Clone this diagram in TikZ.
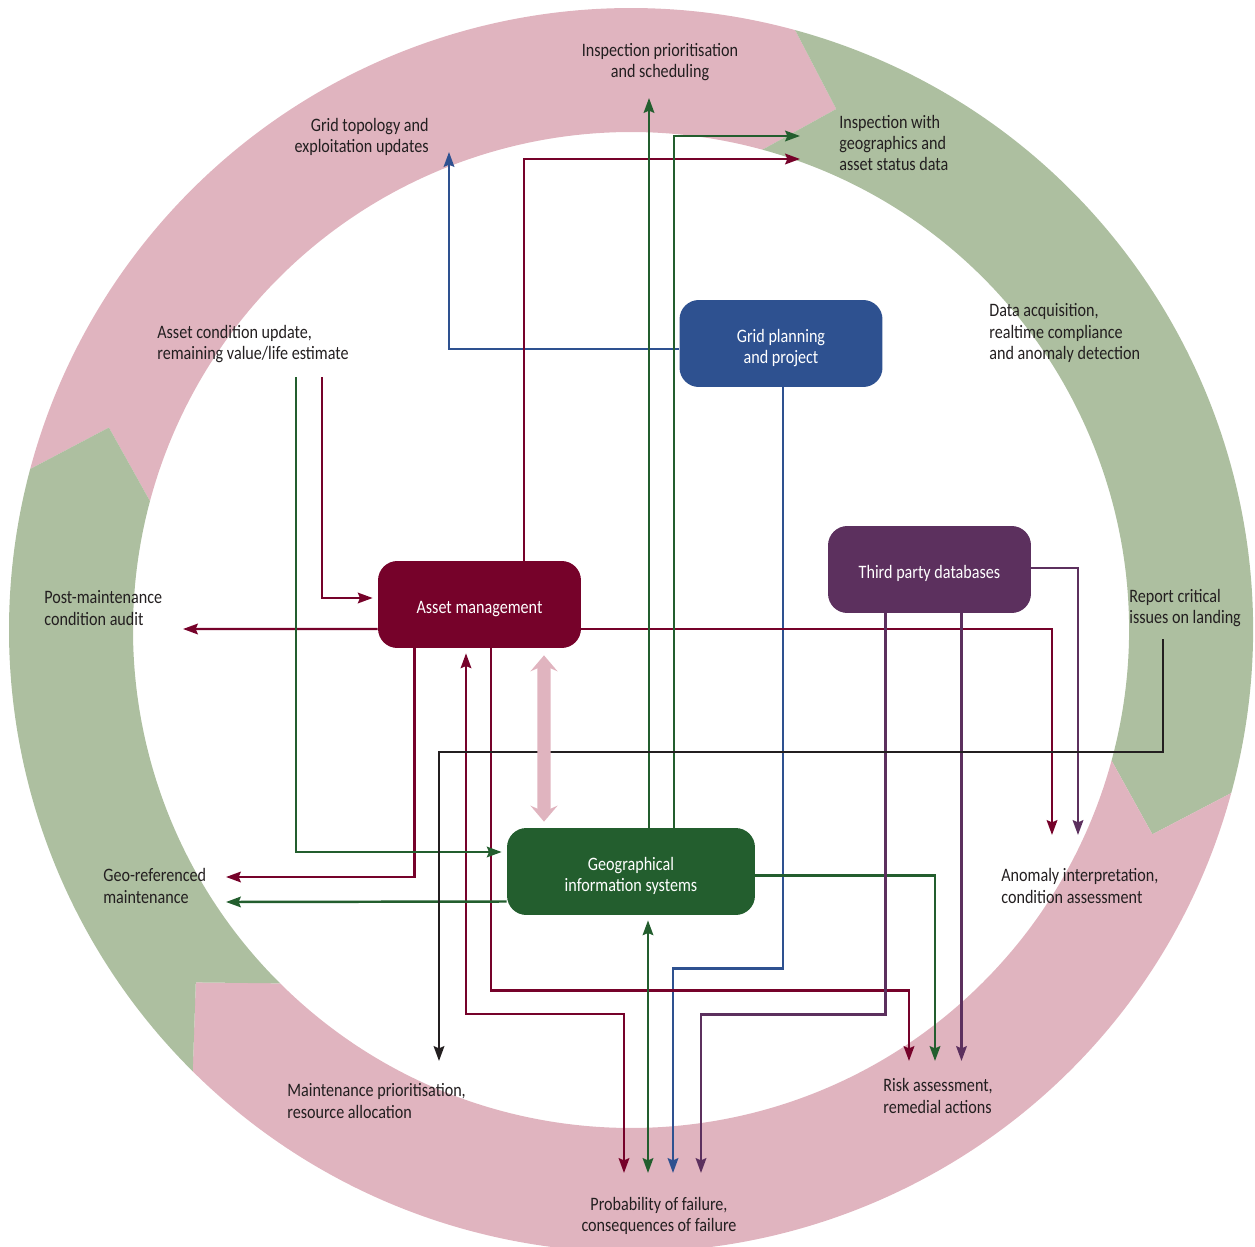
\documentclass[tikz,border=0pt]{standalone}
\usepackage{fontspec}
\setmainfont{Carlito}[FakeStretch=0.85]
\usetikzlibrary{arrows.meta}
\definecolor{ringpink}{RGB}{224,180,191}
\definecolor{ringgreen}{RGB}{173,191,160}
\definecolor{amred}{RGB}{118,2,42}
\definecolor{gpblue}{RGB}{46,81,144}
\definecolor{tppurple}{RGB}{92,48,94}
\definecolor{gisgreen}{RGB}{35,94,46}
\definecolor{txtgray}{RGB}{35,31,32}

\begin{document}
\begin{tikzpicture}[x=0.02cm,y=-0.02cm,>={Stealth[length=8.4pt,width=6pt,inset=1.2pt]},
    wire/.style={line width=1.4pt},
    lbl/.style={inner sep=0pt,text=txtgray,font=\fontsize{10.8}{12}\selectfont},
    box/.style={rounded corners=11pt,minimum width=4.06cm,minimum height=1.74cm,inner sep=0pt,
      text=white,align=center,font=\fontsize{10.8}{12}\selectfont},
    oneline/.style={execute at begin node={\rule{0pt}{12pt}}},
    twoline/.style={text height=23pt,text depth=0pt},
    dbl/.style={draw=ringpink,line width=7.6pt,
      arrows={Stealth[length=9.1pt,width=15.4pt,inset=3.4pt]-Stealth[length=9.1pt,width=15.4pt,inset=3.4pt]}}]
        \useasboundingbox (0,0) rectangle (1255,1247);
        \begin{scope}[shift={(631,630)}]
        \foreach \s/\e/\c in {195/285.3/ringpink,285.3/375.2/ringgreen,15.2/134.8/ringpink,134.8/195/ringgreen}
          \fill[\c] (\s:622) arc[start angle=\s,end angle=\e,radius=622] -- ({\e+6.2}:560)
                  -- (\e:498) arc[start angle=\e,end angle=\s,radius=498] -- ({\s+6.2}:560) -- cycle;
        \end{scope}

        \node[box,oneline,fill=amred] (am) at (479.5,604.5) {Asset management};
        \node[box,twoline,fill=gpblue] (gp) at (781,343.5) {Grid planning\\and project};
        \node[box,oneline,fill=tppurple] (tp) at (929.5,569.5) {Third party databases};
        \node[box,twoline,fill=gisgreen,minimum width=4.96cm] (gis) at (631,871.5) {Geographical\\information systems};

        \node[lbl,align=center] (sched) at (660,62) {Inspection prioritisation\\and scheduling};
        \node[lbl,align=right,anchor=east] (topo) at (429,137) {Grid topology and\\exploitation updates};
        \node[lbl,align=left,anchor=west] (inspgeo) at (839,143) {Inspection with\\geographics and\\asset status data};
        \node[lbl,align=left,anchor=west] (acq) at (989,333) {Data acquisition,\\realtime compliance\\and anomaly detection};
        \node[lbl,align=left,anchor=west] (condupd) at (157,344) {Asset condition update,\\remaining value/life estimate};
        \node[lbl,align=left,anchor=west] (audit) at (44,608) {Post-maintenance\\condition audit};
        \node[lbl,align=left,anchor=west] (report) at (1129,608) {Report critical\\issues on landing};
        \node[lbl,align=left,anchor=west] (georef) at (103,886) {Geo-referenced\\maintenance};
        \node[lbl,align=left,anchor=west] (anomaly) at (1001,886) {Anomaly interpretation,\\condition assessment};
        \node[lbl,align=left,anchor=west] (maintprio) at (287,1101) {Maintenance prioritisation,\\resource allocation};
        \node[lbl,align=left,anchor=west] (risk) at (883,1096) {Risk assessment,\\remedial actions};
        \node[lbl,align=center] (prob) at (659,1216) {Probability of failure,\\consequences of failure};

        \coordinate (cu-g) at (296,377);
        \coordinate (cu-m) at (322,377);
        \coordinate (rep) at (1163,639);
        \coordinate (t-topo) at (449,152);
        \coordinate (t-sched) at (649,98);
        \coordinate (t-insp-g) at (800,136);
        \coordinate (t-insp-m) at (800,159);
        \coordinate (t-audit) at (183,629);
        \coordinate (t-anom-m) at (1052,835);
        \coordinate (t-anom-p) at (1078,835);
        \coordinate (t-geo-m) at (226,877);
        \coordinate (t-geo-g) at (226,902);
        \coordinate (t-maint) at (439,1061);
        \coordinate (t-risk-m) at (909,1061);
        \coordinate (t-risk-g) at (935,1061);
        \coordinate (t-risk-p) at (961.5,1061);
        \coordinate (t-prob-m) at (624,1173);
        \coordinate (t-prob-g) at (648,1173);
        \coordinate (t-prob-b) at (673,1173);
        \coordinate (t-prob-p) at (701,1173);

        \draw[wire,gpblue,->] ([shift={(0,5.5)}]gp.west) -| (t-topo);
        \draw[wire,gpblue,->] ([shift={(2,0)}]gp.south) -- ++(0,581) -| (t-prob-b);

        \draw[wire,amred,->] ([shift={(44.5,0)}]am.north) |- (t-insp-m);
        \draw[wire,amred,->] (cu-m) |- ([shift={(-5,-6.5)}]am.west);
        \draw[wire,amred,->] ([shift={(0,24.5)}]am.west) -- (t-audit);
        \draw[wire,amred,->] ([shift={(0,24.5)}]am.east) -| (t-anom-m);
        \draw[wire,amred,->] ([shift={(-65,0)}]am.south) |- (t-geo-m);
        \draw[wire,amred,<->] ([shift={(-13.5,5)}]am.south) -- ++(0,360.5) -| (t-prob-m);
        \draw[wire,amred,->] ([shift={(11.5,0)}]am.south) -- ++(0,342) -| (t-risk-m);

        \draw[wire,gisgreen,->] ([shift={(18,0)}]gis.north) -- (t-sched);
        \draw[wire,gisgreen,->] ([shift={(43,0)}]gis.north) |- (t-insp-g);
        \draw[wire,gisgreen,->] (cu-g) |- ([shift={(-5,-19.5)}]gis.west);
        \draw[wire,gisgreen,->] ([shift={(0,30)}]gis.west) -- (t-geo-g);
        \draw[wire,gisgreen,->] ([shift={(0,4)}]gis.east) -| (t-risk-g);
        \draw[wire,gisgreen,<->] ([shift={(17,5)}]gis.south) -- (t-prob-g);

        \draw[wire,tppurple,->] ([shift={(0,-1.5)}]tp.east) -| (t-anom-p);
        \draw[wire,tppurple,->] ([shift={(32,0)}]tp.south) -- (t-risk-p);
        \draw[wire,tppurple,->] ([shift={(-44,0)}]tp.south) -- ++(0,401) -| (t-prob-p);

        \draw[wire,txtgray,->] (rep) -- ++(0,113) -| (t-maint);

        \draw[dbl] ([shift={(64.5,7)}]am.south) -- ([shift={(-87,-6)}]gis.north);
\end{tikzpicture}
\end{document}
